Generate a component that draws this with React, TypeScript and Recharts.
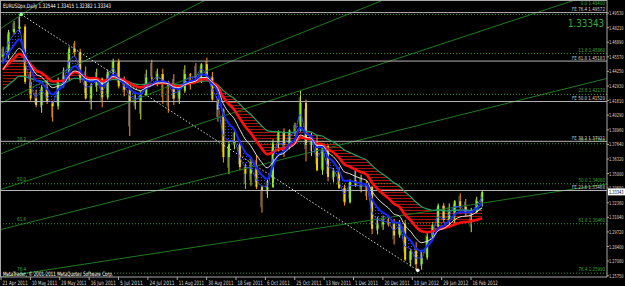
import React from 'react';
import { ComposedChart, XAxis, YAxis, Bar, Line, Area, ReferenceLine, ReferenceDot } from 'recharts';

// ---- categories: bar index (trading-bar number since 21 Apr 2011) of each 3-bar sample ----
const sampleBar = [1,4,7,10,13,16,19,22,25,28,31,34,37,40,43,46,49,52,55,58,61,64,67,70,73,76,79,82,85,88,91,94,97,100,103,106,109,112,115,118,121,124,127,130,133,136,139,142,145,148,151,154,157,160,163,166,169,172,175,178,181,184,187,190,193,196,199,202,205,208,211,214,217,220,223,226,229,232,235,238,241,244,247,250,253,256,259,262];

const firstOpen = 1.4560;
const close = [1.4575,1.4780,1.4810,1.4830,1.4330,1.4180,1.4120,1.4280,1.4150,1.4110,
1.4340,1.4380,1.4630,1.4600,1.4350,1.4180,1.4300,1.4360,1.4190,1.4420,
1.4520,1.4290,1.4260,1.4150,1.4150,1.4210,1.4370,1.4360,1.4400,1.4330,
1.4290,1.4180,1.4250,1.4400,1.4390,1.4380,1.4490,1.4370,1.4170,1.4080,
1.3650,1.3770,1.3790,1.3560,1.3500,1.3540,1.3380,1.3350,1.3380,1.3780,
1.3880,1.3760,1.3890,1.3900,1.4140,1.3760,1.3790,1.3530,1.3750,1.3470,
1.3520,1.3370,1.3240,1.3440,1.3390,1.3390,1.3380,1.3000,1.3040,1.3060,
1.3050,1.2940,1.3050,1.2720,1.2800,1.2680,1.2740,1.2930,1.3020,1.3210,
1.3080,1.3150,1.3250,1.3200,1.3140,1.3150,1.3250,1.33343];
const high = [1.4649,1.4800,1.4880,1.4940,1.4850,1.4460,1.4260,1.4300,1.4350,1.4160,
1.4370,1.4460,1.4650,1.4700,1.4630,1.4470,1.4320,1.4450,1.4370,1.4440,
1.4540,1.4540,1.4380,1.4280,1.4240,1.4250,1.4440,1.4530,1.4450,1.4450,
1.4340,1.4400,1.4270,1.4480,1.4410,1.4500,1.4500,1.4550,1.4420,1.4180,
1.4090,1.3790,1.3900,1.3800,1.3590,1.3650,1.3670,1.3390,1.3460,1.3810,
1.3890,1.3910,1.3900,1.3960,1.4247,1.4170,1.3870,1.3850,1.3760,1.3760,
1.3550,1.3560,1.3400,1.3450,1.3550,1.3490,1.3440,1.3390,1.3110,1.3120,
1.3100,1.3090,1.3080,1.3080,1.2820,1.2880,1.2810,1.2980,1.3060,1.3230,
1.3235,1.3230,1.3260,1.3320,1.3270,1.3190,1.3290,1.33415];
const low = [1.4530,1.4540,1.4760,1.4780,1.4310,1.4160,1.4100,1.4050,1.4130,1.3970,
1.4080,1.4280,1.4340,1.4560,1.4320,1.4170,1.4080,1.4240,1.4100,1.4170,
1.4400,1.4270,1.4200,1.3840,1.4080,1.3990,1.4200,1.4340,1.4290,1.4130,
1.4050,1.4120,1.4130,1.4230,1.4260,1.4330,1.4320,1.4340,1.4160,1.3970,
1.3600,1.3495,1.3720,1.3530,1.3360,1.3390,1.3360,1.3146,1.3280,1.3370,
1.3700,1.3650,1.3720,1.3840,1.3880,1.3610,1.3660,1.3520,1.3490,1.3430,
1.3420,1.3360,1.3211,1.3230,1.3380,1.3330,1.3260,1.2950,1.2950,1.2990,
1.3020,1.2858,1.2920,1.2710,1.2660,1.2624,1.2630,1.2720,1.2910,1.3000,
1.3060,1.3030,1.3050,1.3180,1.3110,1.2970,1.3140,1.3200];

const blueFast = [1.4530,1.4680,1.4758,1.4801,1.4518,1.4315,1.4198,1.4247,1.4189,1.4142,
1.4261,1.4332,1.4511,1.4564,1.4436,1.4282,1.4293,1.4333,1.4247,1.4351,
1.4452,1.4355,1.4298,1.4209,1.4174,1.4196,1.4300,1.4336,1.4374,1.4348,
1.4313,1.4233,1.4243,1.4337,1.4369,1.4376,1.4444,1.4400,1.4262,1.4153,
1.3851,1.3802,1.3795,1.3654,1.3562,1.3549,1.3448,1.3389,1.3384,1.3622,
1.3777,1.3767,1.3841,1.3876,1.4034,1.3870,1.3822,1.3647,1.3709,1.3566,
1.3538,1.3437,1.3319,1.3392,1.3391,1.3390,1.3384,1.3154,1.3086,1.3070,
1.3058,1.2987,1.3025,1.2842,1.2817,1.2735,1.2738,1.2853,1.2953,1.3107,
1.3091,1.3126,1.3200,1.3200,1.3164,1.3156,1.3212,1.3285];
const blueSlow = [1.4491,1.4586,1.4660,1.4716,1.4589,1.4454,1.4344,1.4323,1.4266,1.4215,
1.4256,1.4297,1.4407,1.4471,1.4431,1.4348,1.4332,1.4341,1.4291,1.4334,
1.4395,1.4360,1.4327,1.4269,1.4230,1.4223,1.4272,1.4301,1.4334,1.4333,
1.4319,1.4273,1.4265,1.4310,1.4336,1.4351,1.4397,1.4388,1.4316,1.4238,
1.4044,1.3954,1.3900,1.3788,1.3693,1.3643,1.3556,1.3488,1.3452,1.3560,
1.3666,1.3697,1.3761,1.3807,1.3917,1.3865,1.3840,1.3738,1.3742,1.3652,
1.3608,1.3529,1.3434,1.3436,1.3421,1.3411,1.3401,1.3269,1.3193,1.3149,
1.3116,1.3058,1.3055,1.2944,1.2896,1.2825,1.2797,1.2841,1.2900,1.3002,
1.3028,1.3068,1.3128,1.3152,1.3148,1.3149,1.3182,1.3232];
const whiteMA = [1.4439,1.4514,1.4579,1.4634,1.4567,1.4482,1.4402,1.4375,1.4326,1.4278,
1.4292,1.4311,1.4381,1.4429,1.4412,1.4361,1.4348,1.4351,1.4316,1.4339,
1.4379,1.4359,1.4337,1.4296,1.4264,1.4252,1.4278,1.4296,1.4319,1.4321,
1.4314,1.4285,1.4277,1.4304,1.4323,1.4336,1.4370,1.4370,1.4326,1.4272,
1.4135,1.4055,1.3997,1.3901,1.3813,1.3753,1.3671,1.3600,1.3552,1.3602,
1.3663,1.3684,1.3729,1.3767,1.3849,1.3829,1.3820,1.3756,1.3755,1.3692,
1.3654,1.3592,1.3515,1.3499,1.3475,1.3456,1.3439,1.3342,1.3276,1.3228,
1.3189,1.3134,1.3116,1.3029,1.2979,1.2913,1.2875,1.2887,1.2916,1.2981,
1.3003,1.3035,1.3082,1.3108,1.3115,1.3123,1.3151,1.3191];
const redMA = [1.4443,1.4494,1.4541,1.4584,1.4546,1.4491,1.4435,1.4412,1.4373,1.4334,
1.4335,1.4342,1.4385,1.4417,1.4407,1.4373,1.4362,1.4362,1.4336,1.4349,
1.4375,1.4362,1.4347,1.4317,1.4292,1.4280,1.4294,1.4304,1.4318,1.4320,
1.4316,1.4296,1.4289,1.4306,1.4319,1.4328,1.4352,1.4355,1.4327,1.4290,
1.4194,1.4130,1.4079,1.4001,1.3926,1.3868,1.3795,1.3728,1.3676,1.3692,
1.3720,1.3726,1.3751,1.3773,1.3828,1.3818,1.3814,1.3771,1.3768,1.3723,
1.3693,1.3645,1.3584,1.3562,1.3536,1.3514,1.3494,1.3420,1.3363,1.3318,
1.3278,1.3227,1.3200,1.3128,1.3079,1.3019,1.2977,1.2970,1.2978,1.2995,
1.3005,1.3020,1.3040,1.3055,1.3062,1.3068,1.3080,1.3095];
const greenMA = [1.4260,1.4302,1.4343,1.4382,1.4378,1.4362,1.4343,1.4338,1.4323,1.4306,
1.4309,1.4315,1.4340,1.4361,1.4360,1.4346,1.4342,1.4343,1.4331,1.4338,
1.4353,1.4348,1.4341,1.4326,1.4312,1.4304,1.4309,1.4313,1.4320,1.4321,
1.4319,1.4308,1.4303,1.4311,1.4317,1.4322,1.4335,1.4338,1.4325,1.4305,
1.4253,1.4214,1.4180,1.4130,1.4080,1.4037,1.3984,1.3933,1.3889,1.3880,
1.3880,1.3870,1.3872,1.3874,1.3895,1.3884,1.3876,1.3848,1.3840,1.3810,
1.3787,1.3754,1.3713,1.3691,1.3667,1.3645,1.3624,1.3574,1.3531,1.3493,
1.3458,1.3417,1.3388,1.3335,1.3292,1.3243,1.3203,1.3181,1.3168,1.3171,
1.3164,1.3163,1.3170,1.3172,1.3169,1.3167,1.3174,1.3187];

// ---- axes ----
const xTickBars = [0,16,32,48,64,80,96,112,128,144,160,176,192,208,224,240,256];
const xTickLabels = ['21 Apr 2011','10 May 2011','29 May 2011','16 Jun 2011','5 Jul 2011','24 Jul 2011','11 Aug 2011','30 Aug 2011','18 Sep 2011','6 Oct 2011','25 Oct 2011','13 Nov 2011','1 Dec 2011','20 Dec 2011','10 Jan 2012','29 Jan 2012','16 Feb 2012'];
const yTickValues = [1.4953,1.4821,1.4689,1.4557,1.4425,1.4293,1.4161,1.4029,1.3896,1.3764,1.3632,1.3500,1.3368,1.3236,1.3104,1.2972,1.2840,1.2708,1.2575];
const yTickLabels = ['1.49530','1.48210','1.46890','1.45570','1.44250','1.42930','1.41610','1.40290','1.38960','1.37640','1.36320','1.35000','1.33680','1.32360','1.31040','1.29720','1.28400','1.27080','1.25750'];

// ---- drawn objects (in data units) ----
const feNames = ['FE 76.4','FE 61.8','FE 50.0','FE 38.2','FE 23.6'];
const fePrices = [1.49572,1.45183,1.41520,1.37921,1.33468];
const retrNames = ['0.0','11.8','23.6','38.2','50.0','61.8','76.4'];
const retrPrices = [1.4940,1.4586,1.4217,1.3770,1.3408,1.3046,1.2599];
const retrLeftShown = ['38.2','50.0','61.8','76.4'];
const fanOrigin = { bar: -270, price: 1.1876 };
const fanEnds = [
  { bar: 330, price: 1.3406 },
  { bar: 330, price: 1.4361 },
  { bar: 312.6, price: 1.5071 },
  { bar: 208.3, price: 1.5071 },
  { bar: 111.5, price: 1.5071 },
  { bar: 23.5, price: 1.5071 },
];
const swingHigh = { bar: 11, price: 1.4940 };
const swingLow = { bar: 227, price: 1.2624 };
const titleText = 'EURUSDpx,Daily  1.32544 1.33415 1.32382 1.33343';
const lastPriceText = '1.33343';
const copyrightText = 'MetaTrader, \u00a9 2001-2011 MetaQuotes Software Corp.';

const data = sampleBar.map((bar, i) => ({
  bar,
  open: i === 0 ? firstOpen : close[i - 1],
  close: close[i],
  high: high[i],
  low: low[i],
  range: [low[i], high[i]],
  blueBand: [blueSlow[i], blueFast[i]],
  redBand: [redMA[i], greenMA[i]],
  bf: blueFast[i],
  bs: blueSlow[i],
  white: whiteMA[i],
  red: redMA[i],
  green: greenMA[i],
}));

const FONT = 'DejaVu Sans, Arial, sans-serif';

const Candle = (props: any) => {
  const { x, y, width, height } = props;
  const p = props.payload || props;
  if (x == null || y == null || !p || p.high == null) return null;
  const top = Math.min(y, y + height);
  const h = Math.abs(height);
  const span = p.high - p.low || 1e-9;
  const py = (v: number) => top + ((p.high - v) / span) * h;
  const up = p.close >= p.open;
  const color = up ? '#8cf01e' : '#f2d000';
  const cx = x + width / 2;
  const bTop = py(Math.max(p.open, p.close));
  const bBot = py(Math.min(p.open, p.close));
  return (
    <g>
      <line x1={cx - 1.2} x2={cx - 1.2} y1={top + h * 0.15} y2={top + h * 0.8} stroke="#7a7a7a" strokeWidth={0.8} />
      <line x1={cx} x2={cx} y1={top} y2={top + h} stroke={up ? '#c8e830' : '#ff9a00'} strokeWidth={1} />
      <rect x={x} y={bTop} width={width} height={Math.max(1, bBot - bTop)} fill={color} />
    </g>
  );
};

const XTick = (props: any) => {
  const { x, y, payload } = props;
  const idx = xTickBars.indexOf(payload.value);
  const label = idx >= 0 ? xTickLabels[idx] : '';
  return (
    <g>
      <line x1={x} x2={x} y1={y} y2={y + 3} stroke="#a8a8a8" strokeWidth={1} />
      <text x={x + 1.5} y={y + 7.5} fontSize={6} fontFamily={FONT} fill="#d8d8d8" textLength={label.length * 2.3} lengthAdjust="spacingAndGlyphs">{label}</text>
    </g>
  );
};

const YTick = (props: any) => {
  const { x, y, payload } = props;
  const idx = yTickValues.indexOf(payload.value);
  const label = idx >= 0 ? yTickLabels[idx] : '';
  return (
    <g>
      <line x1={x} x2={x + 2} y1={y} y2={y} stroke="#a8a8a8" strokeWidth={1} />
      <text x={x + 2} y={y + 2} fontSize={5.5} fontFamily={FONT} fill="#d8d8d8" textLength={14.5} lengthAdjust="spacingAndGlyphs">{label}</text>
    </g>
  );
};

const rightLabel = (text: string, color: string, dy: number, left?: string) => (p: any) => {
  const vb = p.viewBox || {};
  if (vb.x == null) return null;
  return (
    <g>
      <text x={vb.x + vb.width - 2} y={vb.y + dy} textAnchor="end" fontSize={5.5} fontFamily={FONT} fill={color} textLength={text.length * 2.2} lengthAdjust="spacingAndGlyphs">{text}</text>
      {left ? (
        <text x={vb.x + 17} y={vb.y - 2.5} fontSize={5.5} fontFamily={FONT} fill={color} textLength={left.length * 2.3} lengthAdjust="spacingAndGlyphs">{left}</text>
      ) : null}
    </g>
  );
};

const priceBox = (p: any) => {
  const vb = p.viewBox || {};
  if (vb.x == null) return null;
  const bx = vb.x + vb.width + 1;
  return (
    <g>
      <rect x={bx} y={vb.y - 3.5} width={17} height={7} fill="#ffffff" />
      <text x={bx + 1} y={vb.y + 2} fontSize={5.5} fontFamily={FONT} fill="#000" textLength={14.5} lengthAdjust="spacingAndGlyphs">{lastPriceText}</text>
    </g>
  );
};

const noDot = { dot: false, activeDot: false } as any;

export default function App() {
  return (
    <div style={{ position: 'absolute', left: 0, top: 0, width: 625, height: 286, background: '#000', overflow: 'hidden' }}>
      <svg width={0} height={0} style={{ position: 'absolute' }}>
        <defs>
          <pattern id="bluePat" width="3" height="3" patternUnits="userSpaceOnUse">
            <rect width="1" height="1" fill="#3345ff" />
          </pattern>
          <pattern id="redPat" width="3" height="3" patternUnits="userSpaceOnUse">
            <rect width="3" height="1" fill="#a81010" />
          </pattern>
        </defs>
      </svg>
      <ComposedChart width={625} height={286} data={data} margin={{ top: 0, right: 0, bottom: 0, left: 0 }}>
        <XAxis dataKey="bar" type="number" domain={[-0.545, 330.07]} allowDataOverflow ticks={xTickBars} interval={0}
          tick={<XTick />} tickLine={false} tickSize={0} tickMargin={0} axisLine={{ stroke: '#a8a8a8' }} height={9} />
        <YAxis orientation="right" type="number" domain={[1.2564, 1.5071]} allowDataOverflow ticks={yTickValues} interval={0}
          tick={<YTick />} tickLine={false} tickSize={0} tickMargin={0} axisLine={{ stroke: '#a8a8a8' }} width={18} />

        {fanEnds.map((e, i) => (
          <ReferenceLine key={'fan' + i} ifOverflow="hidden" segment={[{ x: fanOrigin.bar, y: fanOrigin.price }, { x: e.bar, y: e.price }]}
            stroke="#1f7a1f" strokeWidth={1} />
        ))}
        {retrPrices.map((pr, i) => (
          <ReferenceLine key={'rt' + i} y={pr} ifOverflow="hidden" stroke="#2f9a2f" strokeDasharray="1 2" strokeWidth={1}
            label={rightLabel(`${retrNames[i]} ${pr.toFixed(5)}`, '#3cae3c', i === 0 ? -9 : -2, retrLeftShown.includes(retrNames[i]) ? retrNames[i] : undefined)} />
        ))}
        {fePrices.map((pr, i) => (
          <ReferenceLine key={'fe' + i} y={pr} ifOverflow="hidden" stroke="#b4b4b4" strokeWidth={1}
            label={rightLabel(`${feNames[i]} ${pr.toFixed(5)}`, '#d0d0d0', -1.5)} />
        ))}
        <ReferenceLine ifOverflow="hidden" segment={[{ x: swingHigh.bar, y: swingHigh.price }, { x: swingLow.bar, y: swingLow.price }]}
          stroke="#d8d8d8" strokeDasharray="1.5 2" strokeWidth={1} />

        <Area dataKey="redBand" type="monotone" stroke="none" fill="url(#redPat)" fillOpacity={1} isAnimationActive={false} {...noDot} />
        <Line dataKey="green" type="monotone" stroke="#20a060" strokeWidth={1.2} isAnimationActive={false} {...noDot} />
        <Line dataKey="red" type="monotone" stroke="#ff1010" strokeWidth={2.6} isAnimationActive={false} {...noDot} />
        <Bar dataKey="range" barSize={2} shape={Candle} isAnimationActive={false} />
        <Area dataKey="blueBand" type="monotone" stroke="none" fill="url(#bluePat)" fillOpacity={1} isAnimationActive={false} {...noDot} />
        <Line dataKey="bf" type="monotone" stroke="#3b4bff" strokeWidth={1} isAnimationActive={false} {...noDot} />
        <Line dataKey="bs" type="monotone" stroke="#1428ff" strokeWidth={2} isAnimationActive={false} {...noDot} />
        <Line dataKey="white" type="monotone" stroke="#e0e0e0" strokeWidth={1} isAnimationActive={false} {...noDot} />

        <ReferenceDot x={swingHigh.bar} y={swingHigh.price} r={1.8} fill="#8fff8f" stroke="none" />
        <ReferenceDot x={swingLow.bar} y={swingLow.price} r={1.8} fill="#ffffff" stroke="none" />
        <ReferenceLine y={close[close.length - 1]} stroke="transparent" label={priceBox} />
      </ComposedChart>
      <svg width={625} height={286} style={{ position: 'absolute', left: 0, top: 0, pointerEvents: 'none' }}>
        <line x1={0} x2={607} y1={0.5} y2={0.5} stroke="#a8a8a8" strokeWidth={1} />
        <line x1={0.5} x2={0.5} y1={0} y2={277} stroke="#a8a8a8" strokeWidth={1} />
        <text x={3} y={7.5} fontSize={6} fontFamily={FONT} fill="#ffffff" textLength={108} lengthAdjust="spacingAndGlyphs">{titleText}</text>
        <text x={568} y={27} fontSize={11} fontFamily={FONT} fill="#3aa83a" textLength={36} lengthAdjust="spacingAndGlyphs">{lastPriceText}</text>
        <text x={3} y={276} fontSize={6} fontFamily={FONT} fill="#ffffff" textLength={110} lengthAdjust="spacingAndGlyphs">{copyrightText}</text>
      </svg>
    </div>
  );
}
